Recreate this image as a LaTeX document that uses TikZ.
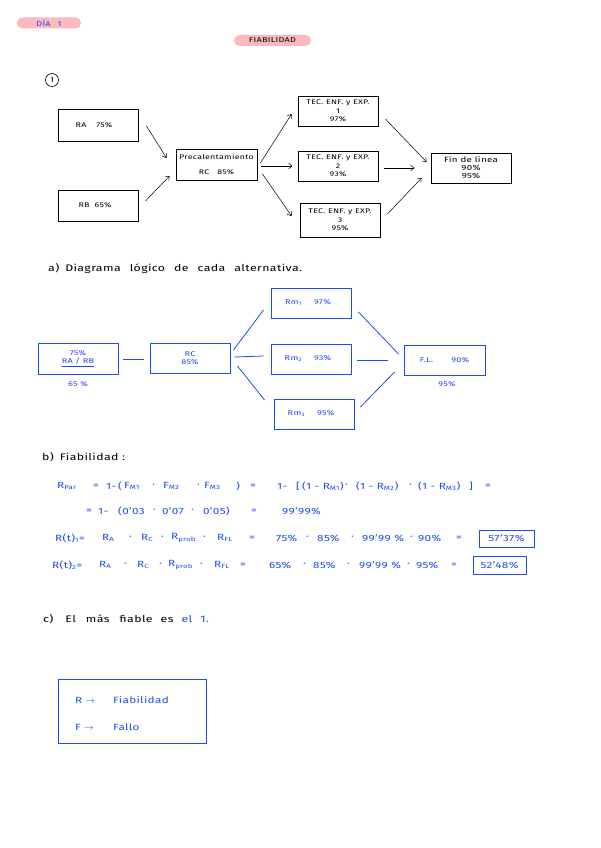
\documentclass[tikz,border=0pt]{standalone}
\usepackage{fontspec}
\setmainfont{Fira Sans}[FakeStretch=1.3, LetterSpace=4]
\usetikzlibrary{calc,arrows.meta}
\definecolor{blu}{HTML}{1F4BF5}
\definecolor{pnk}{HTML}{FDB8C0}
\begin{document}
\begin{tikzpicture}[x=1pt,y=-1pt,
  bbox/.style n args={2}{draw=black, line width=0.9pt, minimum width=#1, minimum height=#2, inner sep=0pt, align=center, font=\fontsize{6.8}{8.3}\selectfont},
  ubox/.style n args={2}{draw=blu, line width=0.9pt, minimum width=#1, minimum height=#2, inner sep=0pt, align=center, text=blu, font=\fontsize{7}{11}\selectfont},
  arr/.style={-{Straight Barb[length=3.5pt,width=5.5pt]}, line width=0.5pt},
  bl/.style={draw=blu, line width=0.8pt},
  fm/.style={anchor=west, inner sep=0pt, text=blu, font=\fontsize{9}{10}\selectfont},
  hd/.style={anchor=west, inner sep=0pt, text=black, font=\fontsize{9.5}{11}\selectfont},
  pill/.style={fill=pnk, rounded corners=5.5pt, inner sep=0pt, minimum height=11pt, font=\fontsize{7}{8}\selectfont}
]
\useasboundingbox (0,0) rectangle (600,848);
\fill[white] (0,0) rectangle (600,848);

% headers
\node[pill, minimum width=64pt, text=blu] (dia) at (49,23) {DÍA\quad 1};
\node[pill, minimum width=77pt] (fiab) at (272.5,40.5) {FIABILIDAD};
\node[draw, circle, inner sep=0pt, minimum size=13pt, line width=0.6pt, font=\fontsize{7}{8}\selectfont] (c1) at (52,80) {1};

% top diagram
\node[bbox={80}{32}] (RA) at (98,125) {RA\hspace{10pt}75\%\hspace{8pt}};
\node[bbox={80}{31}] (RB) at (98,205.5) {RB\hspace{5pt}65\%\hspace{6pt}};
\node[bbox={81}{31}] (Prec) at (216.5,164.5) {Precalentamiento\\[6pt]RC\hspace{8pt}85\%};
\node[bbox={80}{30}] (T1) at (338,111) {TEC.\ ENF.\ y EXP.\\1\\97\%};
\node[bbox={80}{30}] (T2) at (338,166) {TEC.\ ENF.\ y EXP.\\2\\93\%};
\node[bbox={80}{34}] (T3) at (340,220) {TEC.\ ENF.\ y EXP.\\3\\95\%};
\node[bbox={80}{30}, font=\fontsize{7.5}{8}\selectfont] (Fin) at (471,168) {Fin de línea\\90\%\\95\%};

\draw[arr] ($(RA.east)+(8,1)$) -- ($(Prec.west)+(-9,-6.5)$);
\draw[arr] ($(RB.east)+(7,-4.5)$) -- ($(Prec.west)+(-6,11.5)$);
\draw[arr] ($(Prec.east)+(3,-1.5)$) -- ($(T1.west)+(-6,3)$);
\draw[arr] ($(Prec.east)+(4,1.5)$) -- ($(T2.west)+(-5,0)$);
\draw[arr] ($(Prec.east)+(5,9.5)$) -- ($(T3.west)+(-8,-4)$);
\draw[arr] ($(T1.east)+(7,8)$) -- ($(Fin.west)+(-4,-6)$);
\draw[arr] ($(T2.east)+(6,2)$) -- ($(Fin.west)+(-16,0)$);
\draw[arr] ($(T3.east)+(7,-6)$) -- ($(Fin.west)+(-9,10)$);

% a)
\node[hd] (ta) at (48,268) {a)\hspace{6pt}Diagrama\hspace{9pt}lógico\hspace{9pt}de\hspace{9pt}cada\hspace{9pt}alternativa.};

\node[ubox={80}{31}] (RARB) at (78,358.5) {75\%\\[-3pt]\underline{RA / RB}};
\node[inner sep=0pt, text=blu, font=\fontsize{7}{8}\selectfont] (p65) at (78,384) {65 \%};
\node[ubox={80}{30}] (RC) at (190,358) {RC\\[-3pt]85\%};
\node[ubox={80}{30}] (Rm1) at (311,303) {Rm\textsubscript{1}\hspace{12pt}97\%\hspace{6pt}};
\node[ubox={80}{30}] (Rm2) at (311,359) {Rm\textsubscript{2}\hspace{12pt}93\%\hspace{6pt}};
\node[ubox={80}{30}] (Rm3) at (314,414) {Rm\textsubscript{3}\hspace{12pt}95\%\hspace{6pt}};
\node[ubox={81}{30}] (FL) at (444.5,360) {F.L.\hspace{18pt}90\%};
\node[inner sep=0pt, text=blu, font=\fontsize{7}{8}\selectfont] (p95) at (447,384) {95\%};

\draw[bl] ($(RARB.east)+(5,0.5)$) -- ($(RC.west)+(-6,1)$);
\draw[bl] ($(RC.east)+(3,-8)$) -- ($(Rm1.west)+(-7,7)$);
\draw[bl] ($(RC.east)+(4,-1)$) -- ($(Rm2.west)+(-7,-3)$);
\draw[bl] ($(RC.east)+(7,8)$) -- ($(Rm3.west)+(-9,-14)$);
\draw[bl] ($(Rm1.east)+(7,9)$) -- ($(FL.west)+(-5,-6)$);
\draw[bl] ($(Rm2.east)+(6,1)$) -- ($(FL.west)+(-16,0)$);
\draw[bl] ($(Rm3.east)+(6,-7)$) -- ($(FL.west)+(-9,12)$);

% b)
\node[hd] (tb) at (42,457) {b)\hspace{6pt}Fiabilidad :};

\node[fm] (l1a) at (57,486) {R\textsubscript{Par}};
\node[fm] (l1b) at (93,486) {=};
\node[fm] (l1c) at (106,486) {1-};
\node[fm] (l1d) at (118,486) {(};
\node[fm] (l1e) at (124,486) {F\textsubscript{M1}};
\node[fm] (l1f) at (152,486) {·};
\node[fm] (l1g) at (163,486) {F\textsubscript{M2}};
\node[fm] (l1h) at (197,486) {·};
\node[fm] (l1i) at (204,486) {F\textsubscript{M3}};
\node[fm] (l1j) at (236,486) {)};
\node[fm] (l1k) at (250,486) {=};
\node[fm] (l1l) at (277,486) {1-};
\node[fm] (l1m) at (296,486) {[};
\node[fm] (l1n) at (302,486) {(1 - R\textsubscript{M1})};
\node[fm] (l1o) at (345,486) {·};
\node[fm] (l1p) at (356,486) {(1 - R\textsubscript{M2})};
\node[fm] (l1q) at (409,486) {·};
\node[fm] (l1r) at (418,486) {(1 - R\textsubscript{M3})};
\node[fm] (l1s) at (469,486) {]};
\node[fm] (l1t) at (485,486) {=};

\node[fm] (l2a) at (86,511) {=};
\node[fm] (l2b) at (98,511) {1-};
\node[fm] (l2c) at (118,511) {(0'03};
\node[fm] (l2d) at (153,511) {·};
\node[fm] (l2e) at (162,511) {0'07};
\node[fm] (l2f) at (191,511) {·};
\node[fm] (l2g) at (203,511) {0'05)};
\node[fm] (l2h) at (251,511) {=};
\node[fm] (l2i) at (282,511) {99'99\%};

\node[fm] (l3a) at (55,538) {R(t)\textsubscript{1}=};
\node[fm] (l3b) at (102,538) {R\textsubscript{A}};
\node[fm] (l3c) at (129,538) {·};
\node[fm] (l3d) at (141,538) {R\textsubscript{C}};
\node[fm] (l3e) at (161,538) {·};
\node[fm] (l3f) at (171,538) {R\textsubscript{prob}};
\node[fm] (l3g) at (203,538) {·};
\node[fm] (l3h) at (217,538) {R\textsubscript{FL}};
\node[fm] (l3i) at (249,538) {=};
\node[fm] (l3j) at (276,538) {75\%};
\node[fm] (l3k) at (306,538) {·};
\node[fm] (l3l) at (317,538) {85\%};
\node[fm] (l3m) at (351,538) {·};
\node[fm] (l3n) at (362,538) {99'99 \%};
\node[fm] (l3o) at (410,538) {·};
\node[fm] (l3p) at (418,538) {90\%};
\node[fm] (l3q) at (456,538) {=};
\node[draw=blu, line width=0.8pt, text=blu, inner sep=0pt, minimum width=55pt, minimum height=17pt, font=\fontsize{9}{10}\selectfont] (r1) at (506.5,538.5) {57'37\%};

\node[fm] (l4a) at (52,565) {R(t)\textsubscript{2}=};
\node[fm] (l4b) at (99,565) {R\textsubscript{A}};
\node[fm] (l4c) at (124,565) {·};
\node[fm] (l4d) at (137,565) {R\textsubscript{C}};
\node[fm] (l4e) at (159,565) {·};
\node[fm] (l4f) at (168,565) {R\textsubscript{prob}};
\node[fm] (l4g) at (200,565) {·};
\node[fm] (l4h) at (214,565) {R\textsubscript{FL}};
\node[fm] (l4i) at (240,565) {=};
\node[fm] (l4j) at (269,565) {65\%};
\node[fm] (l4k) at (303,565) {·};
\node[fm] (l4l) at (313,565) {85\%};
\node[fm] (l4m) at (347,565) {·};
\node[fm] (l4n) at (359,565) {99'99 \%};
\node[fm] (l4o) at (407,565) {·};
\node[fm] (l4p) at (416,565) {95\%};
\node[fm] (l4q) at (451,565) {=};
\node[draw=blu, line width=0.8pt, text=blu, inner sep=0pt, minimum width=53pt, minimum height=18pt, font=\fontsize{9}{10}\selectfont] (r2) at (499.5,565) {52'48\%};

% c)
\node[hd] (tc) at (43,619) {c)\hspace{12pt}El\hspace{10pt}más\hspace{10pt}fiable\hspace{8pt}es\hspace{8pt}\textcolor{blu}{el\hspace{8pt}1.}};

% legend
\node[draw=blu, line width=0.9pt, minimum width=148pt, minimum height=64pt, inner sep=0pt] (leg) at (132,711) {};
\node[fm] (lr) at (75,700) {R $\rightarrow$};
\node[fm] (lrt) at (113,700) {Fiabilidad};
\node[fm] (lf) at (75,727) {F $\rightarrow$};
\node[fm] (lft) at (113,727) {Fallo};
\end{tikzpicture}
\end{document}
